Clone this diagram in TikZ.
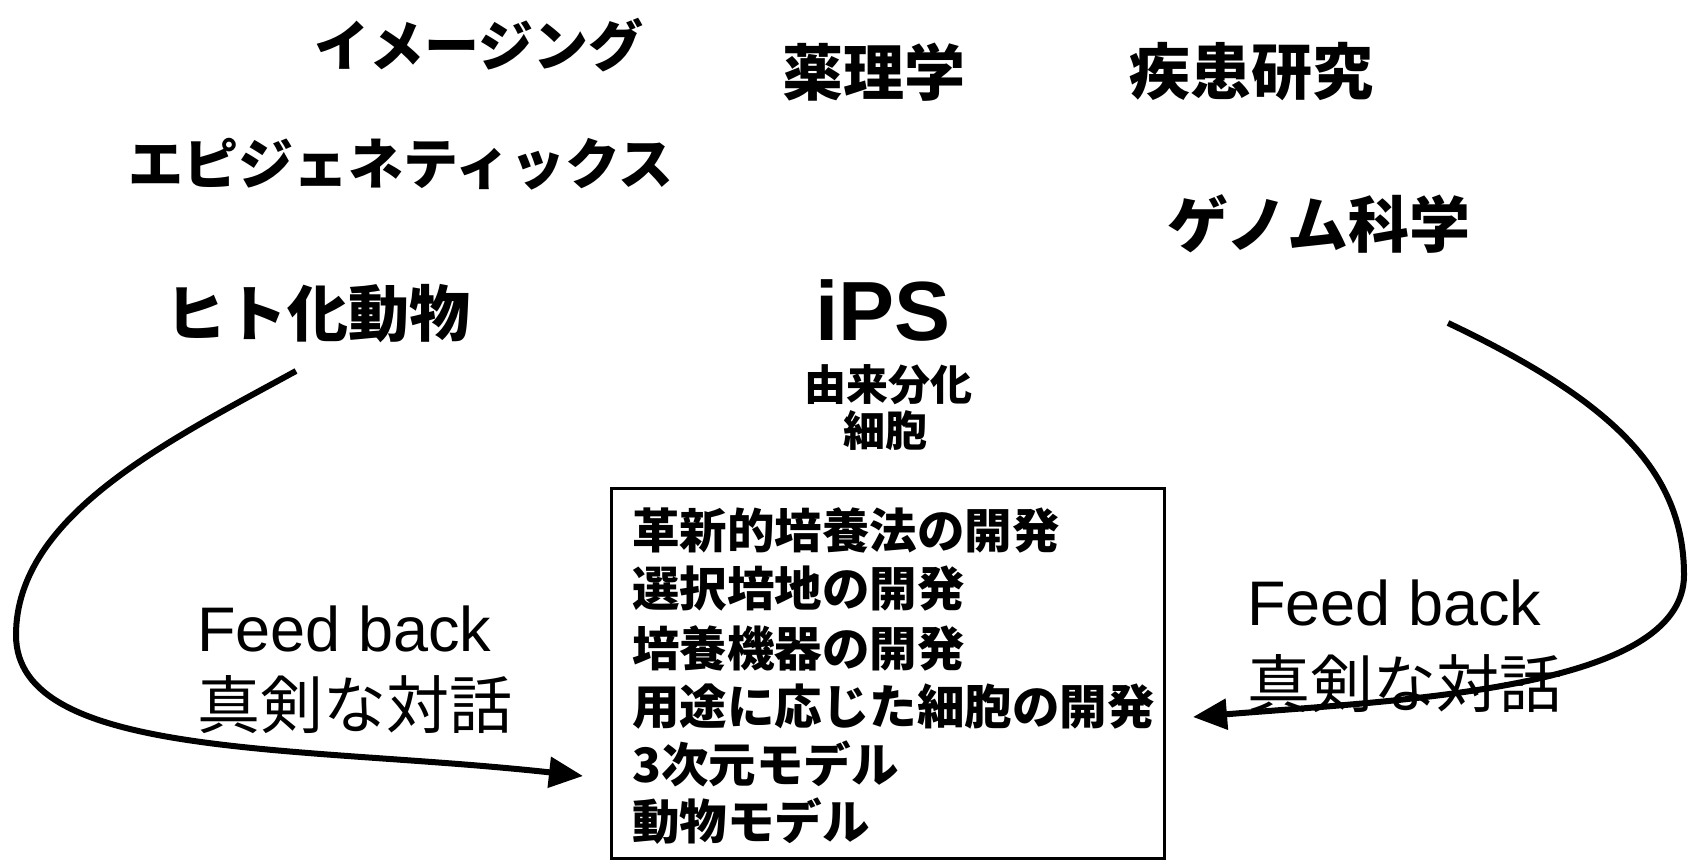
\documentclass[tikz,border=0pt]{standalone}
\usepackage{fontspec}
\setmainfont{Liberation Sans}
\newfontfamily\jp{Noto Sans CJK JP}
\usetikzlibrary{arrows.meta}
\tikzset{
  topic/.style={inner sep=0pt, font=\jp\bfseries\fontsize{55}{60}\selectfont},
  big/.style={inner sep=0pt, font=\jp\bfseries\fontsize{61}{66}\selectfont},
  sub/.style={inner sep=0pt, font=\jp\bfseries\fontsize{42}{46}\selectfont},
  item/.style={inner sep=0pt, anchor=west, font=\jp\bfseries\fontsize{47.5}{50}\selectfont},
  fbk/.style={inner sep=0pt, anchor=west, font=\fontsize{63}{66}\selectfont},
  dlg/.style={inner sep=0pt, anchor=west, font=\jp\fontsize{63}{66}\selectfont},
  flow/.style={line width=6pt, -{Triangle[length=34pt,width=30pt]}},
  panel/.style={draw, line width=3pt}
}
\begin{document}
\begin{tikzpicture}[x=1pt,y=-1pt]
\useasboundingbox (0,0) rectangle (1688,859);
\node[topic] (img) at (479,45) {イメージング};
\node[big] (yak) at (874,72) {薬理学};
\node[big] (shik) at (1251,72) {疾患研究};
\node[topic] (epi) at (401,164) {エピジェネティックス};
\node[big] (gen) at (1319,224) {ゲノム科学};
\node[big] (hito) at (318,314) {ヒト化動物};
\node[inner sep=0pt, font=\bfseries\fontsize{84}{86}\selectfont] (ips) at (883,310) {iPS};
\node[sub] (yurai) at (888,385) {由来分化};
\node[sub] (sai) at (885,431) {細胞};
\node[panel, minimum width=553pt, minimum height=370pt, anchor=north west] (box) at (610,487) {};
\node[item] (l1) at (632,530) {革新的培養法の開発};
\node[item] (l2) at (632,589) {選択培地の開発};
\node[item] (l3) at (632,648) {培養機器の開発};
\node[item] (l4) at (632,707) {用途に応じた細胞の開発};
\node[item] (l5) at (632,764) {3次元モデル};
\node[item] (l6) at (632,821) {動物モデル};
\node[fbk] (fbL) at (197,629) {Feed back};
\node[dlg] (dlL) at (197,705) {真剣な対話};
\node[fbk] (fbR) at (1247,603) {Feed back};
\node[dlg] (dlR) at (1247,684) {真剣な対話};
\coordinate (sL) at (296,371);
\coordinate (mL) at (16,635);
\coordinate (tL) at (583,776);
\coordinate (sR) at (1448,323);
\coordinate (mR) at (1684,575);
\coordinate (tR) at (1193,717);
\draw[flow] (sL) .. controls (170,440) and (16,515) .. (mL)
  .. controls (16,760) and (300,745) .. (tL);
\draw[flow] (sR) .. controls (1610,400) and (1684,470) .. (mR)
  .. controls (1684,690) and (1400,700) .. (tR);
\end{tikzpicture}
\end{document}
